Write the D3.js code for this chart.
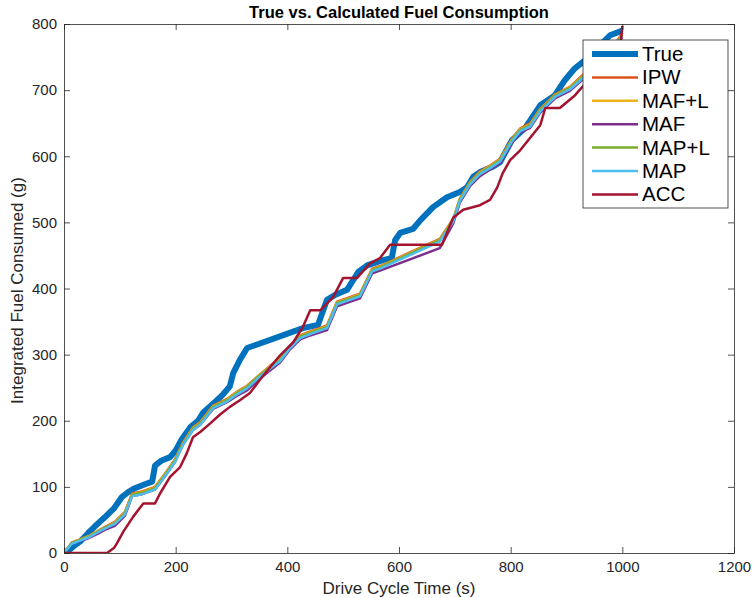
<!DOCTYPE html>
<html>
<head>
<meta charset="utf-8">
<script src="https://cdn.jsdelivr.net/npm/d3@7"></script>
<style>
  body { margin: 0; background: #fff; }
  svg { font-family: "Liberation Sans", Arial, sans-serif; }
</style>
</head>
<body>
<svg id="chart"></svg>
<script>
// series names, in drawing order
var seriesNames = ["True", "IPW", "MAF+L", "MAF", "MAP+L", "MAP", "ACC"];
var seriesColors = ["#0072BD", "#D95319", "#EDB120", "#7E2F8E", "#77AC30", "#4DBEEE", "#A2142F"];

var xTicks = [0, 200, 400, 600, 800, 1000, 1200];
var yTicks = [0, 100, 200, 300, 400, 500, 600, 700, 800];

// [time (s), fuel (g)]
var trueData = [[0,0],[10,5],[20,12],[30,18],[43,30],[55,40],[73,54],[90,68],[104,85],[115,92],[127,98],[145,104],[158,108],[163,132],[175,140],[190,145],[200,155],[211,172],[226,190],[240,200],[249,212],[262,222],[274,231],[285,240],[297,252],[303,272],[315,292],[328,310],[428,340],[455,345],[471,383],[485,390],[507,398],[527,425],[543,435],[571,443],[587,446],[593,473],[602,484],[625,490],[638,503],[661,523],[686,538],[709,546],[722,553],[733,569],[745,576],[768,584],[781,591],[802,624],[826,643],[853,677],[879,692],[897,715],[915,733],[933,745],[951,760],[978,783],[1000,790]];

var ipwData = [[0,0],[14,16],[30,21],[43,25],[60,33],[73,39],[91,47],[109,62],[122,90],[140,93],[163,100],[181,120],[199,142],[213,167],[231,190],[244,198],[267,223],[292,233],[310,244],[328,253],[351,270],[369,283],[387,294],[405,314],[423,329],[441,335],[471,344],[489,380],[530,392],[552,430],[566,434],[673,475],[697,505],[709,536],[727,561],[745,577],[763,586],[781,596],[802,626],[817,642],[835,650],[853,672],[880,694],[906,705],[933,726],[960,740],[987,770],[1000,786]];

var mafLData = [[0,0],[14,15],[30,21],[43,25],[60,33],[73,38],[91,46],[109,61],[122,89],[140,92],[163,99],[181,119],[199,141],[213,166],[231,189],[244,197],[267,222],[292,232],[310,243],[328,252],[351,270],[369,282],[387,293],[405,313],[423,328],[441,334],[471,343],[489,379],[530,391],[552,429],[566,433],[673,474],[697,504],[709,535],[727,560],[745,576],[763,585],[781,595],[802,625],[817,641],[835,648],[853,671],[880,693],[906,704],[933,724],[960,739],[987,769],[1000,784]];

var mafData = [[0,0],[14,14],[30,19],[43,22],[60,29],[73,35],[91,41],[109,56],[122,86],[140,89],[163,96],[181,116],[199,138],[213,164],[231,186],[244,194],[267,218],[292,228],[310,238],[328,246],[351,264],[369,276],[387,288],[405,308],[423,323],[441,329],[471,337],[489,373],[530,385],[552,423],[566,427],[673,461],[697,498],[709,530],[727,555],[745,570],[763,580],[781,590],[802,620],[817,636],[835,643],[853,666],[880,688],[906,699],[933,719],[960,733],[987,764],[1000,780]];

var mapLData = [[0,0],[14,15],[30,20],[43,24],[60,32],[73,38],[91,45],[109,60],[122,88],[140,91],[163,98],[181,118],[199,140],[213,165],[231,188],[244,196],[267,221],[292,231],[310,242],[328,251],[351,269],[369,281],[387,292],[405,312],[423,327],[441,333],[471,342],[489,378],[530,390],[552,428],[566,432],[673,473],[697,503],[709,534],[727,559],[745,575],[763,584],[781,594],[802,624],[817,640],[835,647],[853,670],[880,692],[906,703],[933,723],[960,738],[987,768],[1000,783]];

var mapData = [[0,0],[14,14],[30,19],[43,23],[60,31],[73,37],[91,44],[109,58],[122,86],[140,89],[163,96],[181,116],[199,138],[213,163],[231,186],[244,194],[267,219],[292,229],[310,240],[328,249],[351,267],[369,279],[387,290],[405,310],[423,325],[441,331],[471,340],[489,376],[530,388],[552,426],[566,430],[673,471],[697,501],[709,532],[727,557],[745,573],[763,582],[781,592],[802,622],[817,638],[835,645],[853,668],[880,690],[906,701],[933,721],[960,736],[987,766],[1000,781]];

var accData = [[0,0],[77,0],[90,8],[95,15],[106,32],[124,55],[142,75],[163,75],[172,90],[190,115],[208,130],[220,151],[231,175],[244,183],[262,196],[279,209],[297,221],[315,231],[333,242],[351,262],[369,281],[387,299],[410,318],[428,342],[441,367],[459,367],[482,387],[500,416],[525,416],[548,438],[566,446],[584,466],[677,466],[697,507],[715,519],[745,526],[763,534],[776,553],[786,575],[799,594],[817,609],[835,628],[853,647],[862,673],[888,673],[915,692],[942,718],[969,733],[987,760],[997,770],[1000,797]];

var allData = [trueData, ipwData, mafLData, mafData, mapLData, mapData, accData];

var W = 753, H = 598;
var margin = {top: 24, right: 19, bottom: 45, left: 64};
var width = W - margin.left - margin.right,
    height = H - margin.top - margin.bottom;

var svg = d3.select("#chart").attr("width", W).attr("height", H);

var x = d3.scaleLinear().domain([0, 1200]).range([0, width]);
var y = d3.scaleLinear().domain([0, 800]).range([height, 0]);

var g = svg.append("g")
    .attr("transform", "translate(" + margin.left + "," + margin.top + ")");

svg.append("clipPath").attr("id", "clip")
  .append("rect").attr("width", width).attr("height", height);

// lines
var line = d3.line()
    .x(function(d) { return x(d[0]); })
    .y(function(d) { return y(d[1]); });

var plot = g.append("g").attr("clip-path", "url(#clip)");
allData.forEach(function(s, i) {
  plot.append("path")
      .datum(s)
      .attr("fill", "none")
      .attr("stroke", seriesColors[i])
      .attr("stroke-width", i == 0 ? 6 : 2.5)
      .attr("stroke-linejoin", "round")
      .attr("d", line);
});

// axes
var axisColor = "#262626";
var tickLen = 6;
var fmt = d3.format("d");

var xAxis = g.append("g")
    .attr("transform", "translate(0," + height + ")")
    .call(d3.axisBottom(x).tickValues(xTicks).tickFormat(fmt).tickSizeInner(-tickLen).tickSizeOuter(0).tickPadding(8));
var yAxis = g.append("g")
    .call(d3.axisLeft(y).tickValues(yTicks).tickFormat(fmt).tickSizeInner(-tickLen).tickSizeOuter(0).tickPadding(7));
var xTop = g.append("g")
    .call(d3.axisTop(x).tickValues(xTicks).tickSizeInner(-tickLen).tickSizeOuter(0).tickFormat(""));
var yRight = g.append("g")
    .attr("transform", "translate(" + width + ",0)")
    .call(d3.axisRight(y).tickValues(yTicks).tickSizeInner(-tickLen).tickSizeOuter(0).tickFormat(""));

[xAxis, yAxis, xTop, yRight].forEach(function(a) {
  a.selectAll("path, line").attr("stroke", axisColor).attr("stroke-width", 0.8);
  a.selectAll("text").attr("fill", axisColor).style("font-size", "15px")
    .style("font-family", "'Liberation Sans', Arial, sans-serif");
});

// title and axis labels
svg.append("text")
    .attr("x", margin.left + width / 2).attr("y", 18)
    .attr("text-anchor", "middle")
    .style("font-size", "16.5px").style("font-weight", "bold")
    .attr("fill", "#000")
    .text("True vs. Calculated Fuel Consumption");

svg.append("text")
    .attr("x", margin.left + width / 2).attr("y", 594)
    .attr("text-anchor", "middle")
    .style("font-size", "17px").attr("fill", axisColor)
    .text("Drive Cycle Time (s)");

svg.append("text")
    .attr("transform", "translate(23," + (margin.top + height / 2 + 2) + ") rotate(-90)")
    .attr("text-anchor", "middle")
    .style("font-size", "17px").attr("fill", axisColor)
    .text("Integrated Fuel Consumed (g)");

// legend
var legend = svg.append("g").attr("transform", "translate(583,40)");
legend.append("rect")
    .attr("width", 145).attr("height", 168)
    .attr("fill", "#fff").attr("stroke", axisColor).attr("stroke-width", 0.8);
seriesNames.forEach(function(name, i) {
  var ly = 14 + i * 23.4;
  legend.append("line")
      .attr("x1", 9).attr("x2", 55).attr("y1", ly).attr("y2", ly)
      .attr("stroke", seriesColors[i])
      .attr("stroke-width", i == 0 ? 6 : 2.5);
  legend.append("text")
      .attr("x", 59).attr("y", ly + 7)
      .style("font-size", "20.5px").attr("fill", "#000")
      .text(name);
});
</script>
</body>
</html>
